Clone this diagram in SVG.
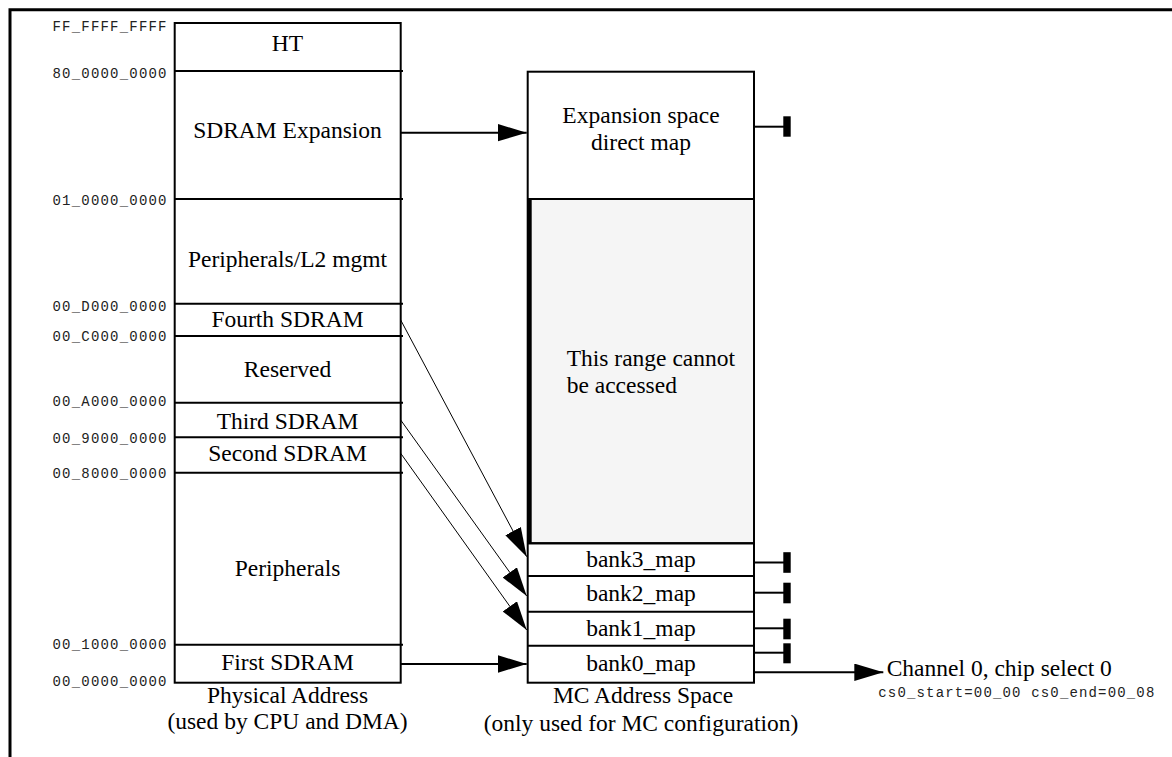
<svg xmlns="http://www.w3.org/2000/svg" width="1172" height="757" viewBox="0 0 1172 757">
<defs>
<marker id="ah" markerUnits="userSpaceOnUse" markerWidth="31" markerHeight="18" refX="29" refY="8.75" orient="auto"><path d="M0,0 L29,8.75 L0,17.5 z" fill="#000"/></marker>
</defs>
<style>
.serif{font-family:"Liberation Serif","Times New Roman",serif;font-size:23.5px;fill:#000}
.c{text-anchor:middle}
.mono{font-family:"Liberation Mono","Courier New",monospace;font-size:14px;fill:#222}
.box{fill:#fff;stroke:#000;stroke-width:2}
.div{stroke:#000;stroke-width:2}
.conn{stroke:#000;stroke-width:2;fill:none}
.thin{stroke:#000;stroke-width:1;fill:none}
.bar{fill:#000}
</style>
<rect width="1172" height="757" fill="#fff"/>
<path d="M10,757 V9.7 H1172" fill="none" stroke="#000" stroke-width="3"/>

<g id="address-labels" class="mono" text-anchor="end">
<text x="166.5" y="30.5" textLength="114">FF_FFFF_FFFF</text>
<text x="166.5" y="78" textLength="114">80_0000_0000</text>
<text x="166.5" y="205" textLength="114">01_0000_0000</text>
<text x="166.5" y="311" textLength="114">00_D000_0000</text>
<text x="166.5" y="341" textLength="114">00_C000_0000</text>
<text x="166.5" y="406" textLength="114">00_A000_0000</text>
<text x="166.5" y="442.5" textLength="114">00_9000_0000</text>
<text x="166.5" y="478" textLength="114">00_8000_0000</text>
<text x="166.5" y="648.5" textLength="114">00_1000_0000</text>
<text x="166.5" y="685.5" textLength="114">00_0000_0000</text>
</g>

<g id="physical-address-map">
<rect class="box" x="174.7" y="23" width="226" height="659.7"/>
<line class="div" x1="175" y1="71" x2="403" y2="71"/>
<line class="div" x1="175" y1="199" x2="403" y2="199"/>
<line class="div" x1="175" y1="303.7" x2="403" y2="303.7"/>
<line class="div" x1="175" y1="336" x2="403" y2="336"/>
<line class="div" x1="175" y1="402.7" x2="403" y2="402.7"/>
<line class="div" x1="175" y1="437.3" x2="403" y2="437.3"/>
<line class="div" x1="175" y1="472.7" x2="403" y2="472.7"/>
<line class="div" x1="175" y1="644.7" x2="403" y2="644.7"/>
<g class="serif c">
<text x="287.5" y="50.7">HT</text>
<text x="287.5" y="138.3">SDRAM Expansion</text>
<text x="287.5" y="266.7">Peripherals/L2 mgmt</text>
<text x="287.5" y="326.7">Fourth SDRAM</text>
<text x="287.5" y="377.3">Reserved</text>
<text x="287.5" y="429">Third SDRAM</text>
<text x="287.5" y="460.7">Second SDRAM</text>
<text x="287.5" y="575.7">Peripherals</text>
<text x="287.5" y="670">First SDRAM</text>
<text x="287.5" y="703.3">Physical Address</text>
<text x="287.5" y="729.3">(used by CPU and DMA)</text>
</g>
</g>

<g id="mc-address-space">
<rect class="box" x="527.7" y="71.7" width="226.3" height="611"/>
<rect x="528.7" y="199" width="225.3" height="344.3" fill="#f5f5f5" stroke="#000" stroke-width="2"/>
<line x1="529.7" y1="199" x2="529.7" y2="543.3" stroke="#000" stroke-width="4"/>
<line class="div" x1="527.7" y1="543.3" x2="754" y2="543.3"/>
<line class="div" x1="527.7" y1="576" x2="754" y2="576"/>
<line class="div" x1="527.7" y1="611.7" x2="754" y2="611.7"/>
<line class="div" x1="527.7" y1="645.7" x2="754" y2="645.7"/>
<g class="serif c">
<text x="641" y="123.3">Expansion space</text>
<text x="641" y="150">direct map</text>
<text x="641" y="567">bank3_map</text>
<text x="641" y="601">bank2_map</text>
<text x="641" y="636">bank1_map</text>
<text x="641" y="671">bank0_map</text>
<text x="643" y="703.3">MC Address Space</text>
<text x="641" y="731">(only used for MC configuration)</text>
</g>
<g class="serif">
<text x="566.7" y="366">This range cannot</text>
<text x="566.7" y="393.3">be accessed</text>
</g>
</g>

<g id="stubs">
<line class="conn" x1="754" y1="126.7" x2="784" y2="126.7"/>
<rect class="bar" x="783.3" y="116.3" width="7.4" height="20.4"/>
<line class="conn" x1="754" y1="562.5" x2="784" y2="562.5"/>
<rect class="bar" x="783.3" y="552.2" width="7.4" height="20.6"/>
<line class="conn" x1="754" y1="592.7" x2="784" y2="592.7"/>
<rect class="bar" x="783.3" y="582.7" width="7.4" height="20.6"/>
<line class="conn" x1="754" y1="628.3" x2="784" y2="628.3"/>
<rect class="bar" x="783.3" y="618.7" width="7.4" height="20.6"/>
<line class="conn" x1="754" y1="652.7" x2="784" y2="652.7"/>
<rect class="bar" x="783.3" y="643.3" width="7.4" height="20"/>
</g>

<g id="channel0">
<text class="serif" x="886.7" y="675.7">Channel 0, chip select 0</text>
<text class="mono" x="878.3" y="697" textLength="276">cs0_start=00_00 cs0_end=00_08</text>
</g>

<g id="connectors">
<line class="conn" x1="400.7" y1="132.7" x2="526.7" y2="132.7" marker-end="url(#ah)"/>
<line class="conn" x1="400.7" y1="664" x2="526.7" y2="664" marker-end="url(#ah)"/>
<line class="thin" x1="400.7" y1="320" x2="526.7" y2="556.7" marker-end="url(#ah)"/>
<line class="thin" x1="400.7" y1="420" x2="526.7" y2="596" marker-end="url(#ah)"/>
<line class="thin" x1="400.7" y1="453.3" x2="526.7" y2="630" marker-end="url(#ah)"/>
<line class="conn" x1="754" y1="672.3" x2="883.3" y2="672.3" marker-end="url(#ah)"/>
</g>
</svg>
